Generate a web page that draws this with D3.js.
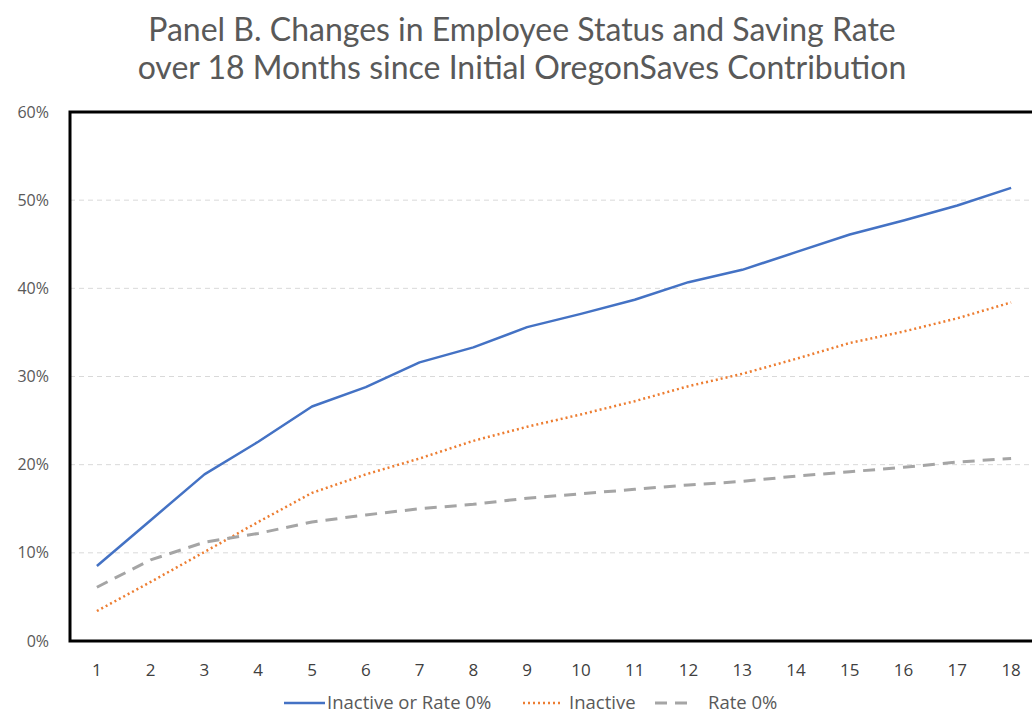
<!DOCTYPE html>
<html><head><meta charset="utf-8">
<script src="https://cdn.jsdelivr.net/npm/d3@7"></script>
<style>body{margin:0;background:#fff}svg{display:block}</style>
</head><body>
<svg id="c" width="1032" height="716"></svg>
<script>
const months = [1,2,3,4,5,6,7,8,9,10,11,12,13,14,15,16,17,18];
const inactiveOrRate0 = [8.5,13.7,18.9,22.6,26.6,28.8,31.6,33.3,35.6,37.1,38.7,40.7,42.1,44.1,46.1,47.7,49.4,51.4];
const inactive = [3.4,6.7,10.1,13.5,16.8,18.9,20.7,22.7,24.3,25.7,27.2,28.9,30.3,32.0,33.8,35.1,36.6,38.4];
const rate0 = [6.1,9.2,11.2,12.2,13.5,14.3,15.0,15.5,16.2,16.7,17.2,17.7,18.1,18.7,19.2,19.7,20.3,20.7];
const yTicks = [0,10,20,30,40,50,60];
const seriesNames = ["Inactive or Rate 0%","Inactive","Rate 0%"];
const titleLines = ["Panel B. Changes in Employee Status and Saving Rate","over 18 Months since Initial OregonSaves Contribution"];

const svg = d3.select("#c");
const font = "'Open Sans', sans-serif";
const L = 70, R = 1038, T = 112, B = 641;
const x = d3.scaleBand().domain(months).range([L, R]);
const y = d3.scaleLinear().domain([0,60]).range([B, T]);

svg.selectAll("text.title").data(titleLines).join("text")
  .attr("x", 522).attr("y", (d,i)=>41+i*38).attr("text-anchor","middle")
  .attr("font-family", "Lato, sans-serif").attr("font-size", 32).attr("fill","#595959").text(d=>d);

// gridlines
svg.append("g").selectAll("line").data(yTicks.filter(t=>t>0 && t<60)).join("line")
  .attr("x1", L).attr("x2", R).attr("y1", d=>y(d)).attr("y2", d=>y(d))
  .attr("stroke","#d9d9d9").attr("stroke-width",1).attr("stroke-dasharray","5,4");

// y axis labels
const ya = svg.append("g").attr("transform",`translate(${L-21},0)`)
  .call(d3.axisLeft(y).tickValues(yTicks).tickFormat(d=>d+"%").tickSize(0).tickPadding(0));
ya.select(".domain").remove();
ya.selectAll("text").attr("font-family",font).attr("font-size",16).attr("fill","#595959");

// x axis labels
const xa = svg.append("g").attr("transform",`translate(0,${B})`)
  .call(d3.axisBottom(x).tickSize(0));
xa.select(".domain").remove();
xa.selectAll("text").attr("y",35).attr("dy",null)
  .attr("font-family",font).attr("font-size",17).attr("fill","#404040");

// frame
svg.append("rect").attr("x",L).attr("y",T).attr("width",R-L).attr("height",B-T)
  .attr("fill","none").attr("stroke","#000").attr("stroke-width",3);

const series = [
  {name: seriesNames[0], vals: inactiveOrRate0, color:"#4472C4", dash:null, w:2.5},
  {name: seriesNames[1], vals: inactive, color:"#ED7D31", dash:"2,3", w:2.5},
  {name: seriesNames[2], vals: rate0, color:"#A5A5A5", dash:"12,8", w:3}
];
const line = d3.line().x((d,i)=>x(months[i])+x.bandwidth()/2).y(d=>y(d));
svg.append("g").selectAll("path").data(series).join("path")
  .attr("d", d=>line(d.vals)).attr("fill","none")
  .attr("stroke", d=>d.color).attr("stroke-width", d=>d.w)
  .attr("stroke-dasharray", d=>d.dash).attr("stroke-linejoin","round");

// legend
const legX = [284, 523, 655];
const legW = [41, 40, 32];
const legGap = [2, 6, 21];
const lg = svg.append("g").selectAll("g").data(series).join("g")
  .attr("transform",(d,i)=>`translate(${legX[i]},703)`);
lg.append("line").attr("x1",0).attr("x2",(d,i)=>legW[i]).attr("y1",0).attr("y2",0)
  .attr("stroke",d=>d.color).attr("stroke-width",d=>d.w).attr("stroke-dasharray",(d,i)=>i===2?"12,8":d.dash);
lg.append("text").attr("x",(d,i)=>legW[i]+legGap[i]).attr("y",6)
  .attr("font-family",font).attr("font-size",18.5).attr("fill","#595959").text(d=>d.name);
</script>
</body></html>
